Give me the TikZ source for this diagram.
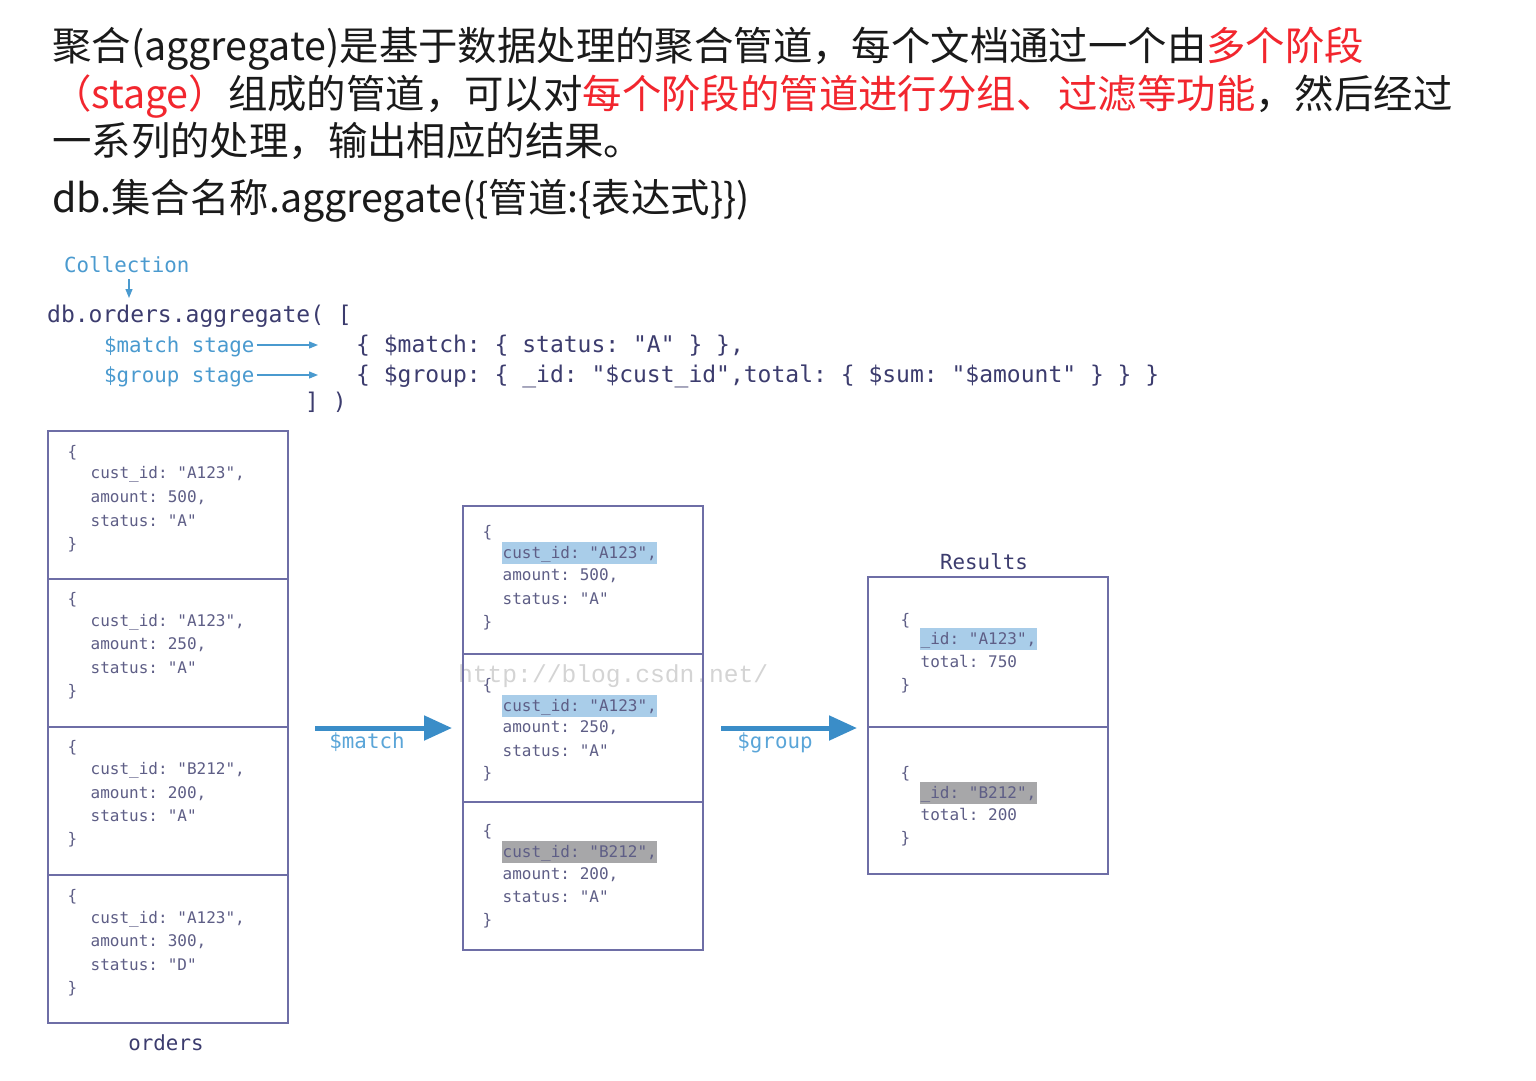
\documentclass[tikz,border=0pt]{standalone}
\usepackage{fontspec}
\setmainfont{Noto Sans CJK SC}
\newfontfamily\monof{DejaVu Sans Mono}
\newfontfamily\wmfont{Liberation Mono}
\usetikzlibrary{arrows.meta}
\definecolor{txtblack}{HTML}{1A1A1A}
\definecolor{txtred}{HTML}{F2262E}
\definecolor{codecol}{HTML}{3C3C6E}
\definecolor{lblblue}{HTML}{4A9ACF}
\definecolor{arrblue}{HTML}{3A8DC8}
\definecolor{arrlbl}{HTML}{5AA5D8}
\definecolor{boxcol}{HTML}{6E6EA6}
\definecolor{cellcol}{HTML}{5E5E86}
\definecolor{hlblue}{HTML}{A9CDE9}
\definecolor{hlgray}{HTML}{A7A7A9}
\definecolor{wmcol}{HTML}{D4D4D4}
\frenchspacing
\begin{document}
\begin{tikzpicture}[x=1pt,y=-1pt,
  title/.style={anchor=base west, inner sep=0pt, font=\fontsize{39.4pt}{47pt}\selectfont, text=txtblack},
  code/.style={anchor=base west, inner sep=0pt, font=\monof\fontsize{23pt}{28pt}\selectfont\frenchspacing, text=codecol},
  lbl/.style={anchor=base west, inner sep=0pt, font=\monof\fontsize{20.8pt}{25pt}\selectfont, text=lblblue},
  cell/.style={draw=boxcol, line width=2pt, minimum width=240pt, minimum height=148pt, inner sep=0pt, anchor=north west},
  ct/.style={anchor=base west, inner xsep=0.5pt, inner ysep=1pt, text height=15pt, text depth=5pt, font=\monof\fontsize{16pt}{19pt}\selectfont\frenchspacing, text=cellcol},
  smallarr/.style={-{Triangle[length=9pt,width=7pt]}, lblblue, line width=1.2pt},
  bigarr/.style={-{Triangle[length=28pt,width=24pt]}, arrblue, line width=5pt},
  caption/.style={anchor=base, inner sep=0pt, font=\monof\fontsize{20.8pt}{25pt}\selectfont, text=codecol},
  arrlabel/.style={anchor=base, inner sep=0pt, font=\monof\fontsize{20.8pt}{25pt}\selectfont, text=arrlbl},
]
\useasboundingbox[fill=white] (0,0) rectangle (1536,1081);

% ---- heading text ----
\node[title] (t1) at (52,61) {聚合(aggregate)是基于数据处理的聚合管道，每个文档通过一个由\textcolor{txtred}{多个阶段}};
\node[title] (t2) at (52,108) {\textcolor{txtred}{（stage）}组成的管道，可以对\textcolor{txtred}{每个阶段的管道进行分组、\hspace{3pt}过滤等功能}，然后经过};
\node[title] (t3) at (52,155) {一系列的处理，输出相应的结果。};
\node[title] (t4) at (52,212) {db.集合名称.aggregate(\{管道:\{表达式\}\})};

% ---- code ----
\node[lbl] (coll) at (64,272) {Collection};
\node[code] (dbline) at (47,322) {db.orders.aggregate( [};
\node[lbl] (ml) at (104,352) {\$match stage};
\node[code] (mc) at (356,352) {\{ \$match: \{ status: "A" \} \},};
\node[lbl] (gl) at (104,382) {\$group stage};
\node[code] (gc) at (356,382) {\{ \$group: \{ \_id: "\$cust\_id",total: \{ \$sum: "\$amount" \} \} \}};
\node[code] (close) at (305,409) {] )};
\coordinate (ca1) at (129,279);
\coordinate (ca2) at (129,298);
\draw[smallarr] (ca1) -- (ca2);
\draw[smallarr] ([yshift=7pt,xshift=2pt]ml.base east) -- ([yshift=7pt,xshift=-38pt]mc.base west);
\draw[smallarr] ([yshift=7pt,xshift=2pt]gl.base east) -- ([yshift=7pt,xshift=-38pt]gc.base west);

% ---- watermark ----
\node[anchor=base west, inner sep=0pt, font=\wmfont\fontsize{24.6pt}{28pt}\selectfont, text=wmcol] (wm) at (458,682) {http://blog.csdn.net/};

% ---- orders collection ----
\node[cell] (o1) at (47,430) {};
\node[cell] (o2) at (47,578) {};
\node[cell] (o3) at (47,726) {};
\node[cell] (o4) at (47,874) {};
\node[caption] (ordlbl) at (166,1050) {orders};

\node[ct] (o1a) at (67,457) {\{};
\node[ct] (o1b) at (90,478) {cust\_id: "A123",};
\node[ct] (o1c) at (90,502) {amount: 500,};
\node[ct] (o1d) at (90,526) {status: "A"};
\node[ct] (o1e) at (67,549) {\}};

\node[ct] (o2a) at (67,604) {\{};
\node[ct] (o2b) at (90,626) {cust\_id: "A123",};
\node[ct] (o2c) at (90,649) {amount: 250,};
\node[ct] (o2d) at (90,673) {status: "A"};
\node[ct] (o2e) at (67,696) {\}};

\node[ct] (o3a) at (67,752) {\{};
\node[ct] (o3b) at (90,774) {cust\_id: "B212",};
\node[ct] (o3c) at (90,798) {amount: 200,};
\node[ct] (o3d) at (90,821) {status: "A"};
\node[ct] (o3e) at (67,844) {\}};

\node[ct] (o4a) at (67,901) {\{};
\node[ct] (o4b) at (90,923) {cust\_id: "A123",};
\node[ct] (o4c) at (90,946) {amount: 300,};
\node[ct] (o4d) at (90,970) {status: "D"};
\node[ct] (o4e) at (67,993) {\}};

% ---- after $match ----
\node[cell] (m1) at (462,505) {};
\node[cell] (m2) at (462,653) {};
\node[cell] (m3) at (462,801) {};

\node[ct] (m1a) at (482,537) {\{};
\node[ct, fill=hlblue] (m1b) at (502,558) {cust\_id: "A123",};
\node[ct] (m1c) at (502,580) {amount: 500,};
\node[ct] (m1d) at (502,604) {status: "A"};
\node[ct] (m1e) at (482,627) {\}};

\node[ct] (m2a) at (482,690) {\{};
\node[ct, fill=hlblue] (m2b) at (502,711) {cust\_id: "A123",};
\node[ct] (m2c) at (502,732) {amount: 250,};
\node[ct] (m2d) at (502,756) {status: "A"};
\node[ct] (m2e) at (482,778) {\}};

\node[ct] (m3a) at (482,836) {\{};
\node[ct, fill=hlgray] (m3b) at (502,857) {cust\_id: "B212",};
\node[ct] (m3c) at (502,879) {amount: 200,};
\node[ct] (m3d) at (502,902) {status: "A"};
\node[ct] (m3e) at (482,925) {\}};

% ---- results ----
\node[cell, minimum height=150pt] (r1) at (867,576) {};
\node[cell, minimum height=147pt] (r2) at (867,726) {};
\node[caption] (reslbl) at (984,569) {Results};

\node[ct] (r1a) at (900,625) {\{};
\node[ct, fill=hlblue] (r1b) at (920,644) {\_id: "A123",};
\node[ct] (r1c) at (920,667) {total: 750};
\node[ct] (r1d) at (900,690) {\}};

\node[ct] (r2a) at (900,778) {\{};
\node[ct, fill=hlgray] (r2b) at (920,798) {\_id: "B212",};
\node[ct] (r2c) at (920,820) {total: 200};
\node[ct] (r2d) at (900,843) {\}};

% ---- stage arrows ----
\draw[bigarr] ([xshift=26pt]o3.east |- m2.west) -- ([xshift=-10pt]m2.west);
\node[arrlabel] (matchlbl) at (367,748) {\$match};
\draw[bigarr] ([xshift=17pt]m2.east) -- ([xshift=-10pt]r1.west |- m2.east);
\node[arrlabel] (grouplbl) at (775,748) {\$group};
\end{tikzpicture}
\end{document}
